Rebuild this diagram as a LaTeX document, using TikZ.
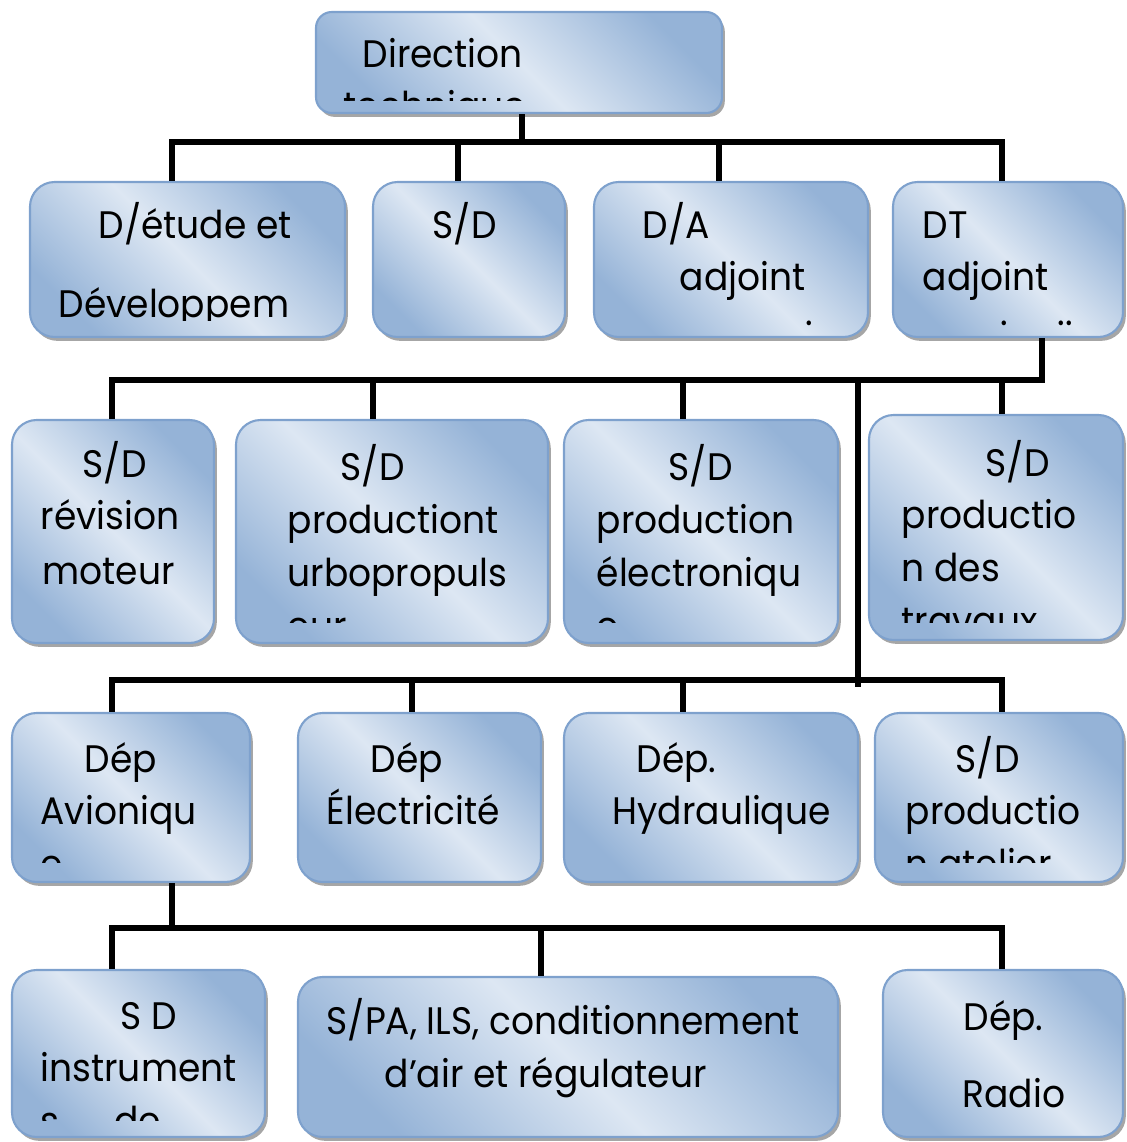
\documentclass[tikz,border=0pt]{standalone}
\usepackage{fontspec}
\setmainfont{Poppins}[FakeStretch=0.94]
\usetikzlibrary{positioning, fit, shadows}
\definecolor{boxdark}{RGB}{149,179,215}
\definecolor{boxlight}{RGB}{221,231,243}
\definecolor{boxline}{RGB}{126,161,205}
\newcommand{\orgfont}{\fontsize{10.9}{13}\selectfont}
\tikzset{
  unit/.style={rectangle, rounded corners=7pt, inner sep=0pt, draw=boxline, line width=0.6pt,
    top color=boxdark, bottom color=boxdark, middle color=boxlight, shading angle=-45,
    drop shadow={shadow xshift=0.8pt, shadow yshift=-1.1pt, fill=black!35, opacity=1}},
  txt/.style={anchor=base west, inner sep=0pt},
  link/.style={line width=1.7pt}
}

\begin{document}
\begin{tikzpicture}[x=0.01cm, y=-0.01cm, font=\orgfont]
\useasboundingbox (0,0) rectangle (1127,1142);

% boxes
\node[unit, rounded corners=4.5pt, fit={(316,12) (722,113)}] (dir) {};
\node[unit, fit={(30,182) (345,337)}] (b1) {};
\node[unit, fit={(373,182) (565,337)}] (b2) {};
\node[unit, fit={(594,182) (868,337)}] (b3) {};
\node[unit, fit={(893,182) (1123,337)}] (b4) {};
\node[unit, fit={(12,420) (214,643)}] (c1) {};
\node[unit, fit={(236,420) (548,643)}] (c2) {};
\node[unit, fit={(564,420) (838,643)}] (c3) {};
\node[unit, fit={(869,415) (1123,640)}] (c4) {};
\node[unit, fit={(12,713) (250,882)}] (d1) {};
\node[unit, fit={(298,713) (541,882)}] (d2) {};
\node[unit, fit={(564,713) (858,882)}] (d3) {};
\node[unit, fit={(875,713) (1123,882)}] (d4) {};
\node[unit, fit={(12,970) (265,1137)}] (e1) {};
\node[unit, fit={(298,977) (838,1137)}] (e2) {};
\node[unit, fit={(883,970) (1123,1137)}] (e3) {};

% texts
\node[txt] (dirA) at (362,67) {Direction};
\begin{scope}
  \clip (316,12) rectangle (722,100);
  \node[txt] (dirB) at (343,119) {technique};
\end{scope}
\node[txt] (b1A) at (98,238) {D/étude et};
\begin{scope}
  \clip (30,182) rectangle (345,320);
  \node[txt] (b1B) at (58,317) {Développem};
\end{scope}
\node[txt] (b2A) at (432,238) {S/D};
\node[txt] (b3A) at (642,238) {D/A};
\node[txt] (b3B) at (679,290) {adjoint};
\node[txt] (b3C) at (805,325) {.};
\node[txt] (b4A) at (922,238) {DT};
\node[txt] (b4B) at (922,290) {adjoint};
\node[txt] (b4C) at (1000,325) {.};
\node[txt] (b4D) at (1057,325) {..};

\node[txt] (c1A) at (82,477) {S/D};
\node[txt] (c1B) at (40,529) {révision};
\node[txt] (c1C) at (42,584) {moteur};
\node[txt] (c2A) at (340,480) {S/D};
\node[txt] (c2B) at (287,533) {productiont};
\node[txt] (c2C) at (287,586) {urbopropuls};
\node[txt] (c3A) at (668,480) {S/D};
\node[txt] (c3B) at (596,533) {production};
\node[txt] (c3C) at (596,586) {électroniqu};
\node[txt] (c4A) at (985,476) {S/D};
\node[txt] (c4B) at (901,528) {productio};
\node[txt] (c4C) at (901,581) {n des};
\begin{scope}
  \clip (236,420) rectangle (1123,622);
  \node[txt] (c2D) at (287,639) {eur};
  \node[txt] (c3D) at (596,639) {e};
  \node[txt] (c4D) at (901,634) {travaux};
\end{scope}

\node[txt] (d1A) at (84,772) {Dép};
\node[txt] (d1B) at (40,824) {Avioniqu};
\node[txt] (d2A) at (370,772) {Dép};
\node[txt] (d2B) at (326,824) {Électricité};
\node[txt] (d3A) at (636,772) {Dép.};
\node[txt] (d3B) at (612,824) {Hydraulique};
\node[txt] (d4A) at (955,772) {S/D};
\node[txt] (d4B) at (905,824) {productio};
\begin{scope}
  \clip (12,713) rectangle (1123,862);
  \node[txt] (d1C) at (40,877) {e};
  \node[txt] (d4C) at (905,877) {n atelier};
\end{scope}

\node[txt] (e1A) at (120,1029) {S D};
\node[txt] (e1B) at (40,1081) {instrument};
\begin{scope}
  \clip (12,970) rectangle (265,1120);
  \node[txt] (e1C) at (40,1134) {s\hspace{0.55cm}de};
\end{scope}
\node[txt] (e2A) at (326,1034) {S/PA, ILS, conditionnement};
\node[txt] (e2B) at (384,1087) {d’air et régulateur};
\node[txt] (e3A) at (963,1030) {Dép.};
\node[txt] (e3B) at (962,1107) {Radio};

% links
\coordinate (top) at (522,142);
\coordinate (r1a) at (172,142);
\coordinate (r1b) at (458,142);
\coordinate (r1c) at (719,142);
\coordinate (r1d) at (1002,142);
\draw[link] (dir.south -| top) -- (top);
\draw[link] (r1a |- b1.north) -- (r1a) -- (r1d) -- (r1d |- b4.north);
\draw[link] (r1b) -- (r1b |- b2.north);
\draw[link] (r1c) -- (r1c |- b3.north);

\coordinate (r2s) at (1042,380);
\coordinate (r2a) at (112,380);
\coordinate (r2b) at (373,380);
\coordinate (r2c) at (683,380);
\coordinate (r2x) at (858,380);
\coordinate (r2d) at (1002,380);
\draw[link] (b4.south -| r2s) -- (r2s) -- (r2a) -- (r2a |- c1.north);
\foreach \j/\n in {r2b/c2, r2c/c3, r2d/c4}
  \draw[link] (\j) -- (\j |- \n.north);

\coordinate (r3a) at (112,680);
\coordinate (r3b) at (412,680);
\coordinate (r3c) at (683,680);
\coordinate (r3x) at (858,680);
\coordinate (r3d) at (1002,680);
\draw[link] (r2x) -- ([yshift=-2pt]r3x);
\draw[link] (r3a |- d1.north) -- (r3a) -- (r3d) -- (r3d |- d4.north);
\foreach \j/\n in {r3b/d2, r3c/d3}
  \draw[link] (\j) -- (\j |- \n.north);

\coordinate (r4s) at (172,928);
\coordinate (r4a) at (112,928);
\coordinate (r4b) at (541,928);
\coordinate (r4c) at (1002,928);
\draw[link] (d1.south -| r4s) -- (r4s);
\draw[link] (r4a |- e1.north) -- (r4a) -- (r4c) -- (r4c |- e3.north);
\draw[link] (r4b) -- (r4b |- e2.north);
\end{tikzpicture}
\end{document}
